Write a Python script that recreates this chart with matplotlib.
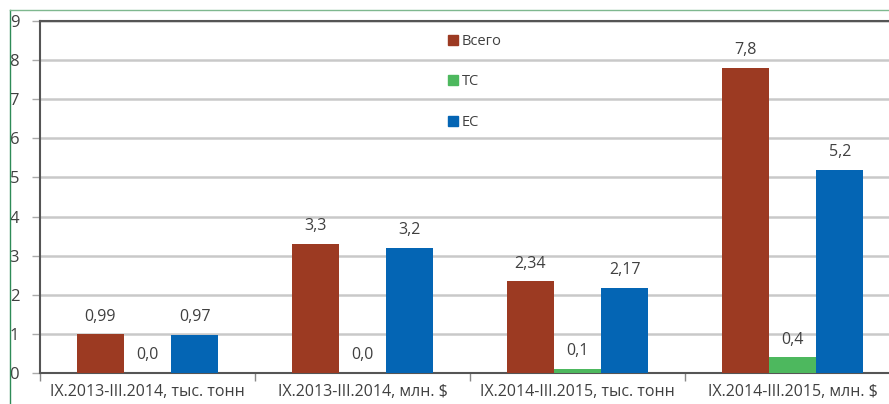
import matplotlib
matplotlib.use("Agg")
import matplotlib.pyplot as plt
from matplotlib.lines import Line2D
import numpy as np

categories = ["IX.2013-III.2014, тыс. тонн", "IX.2013-III.2014, млн. $",
              "IX.2014-III.2015, тыс. тонн", "IX.2014-III.2015, млн. $"]
series_names = ["Всего", "ТС", "ЕС"]
vsego = [0.99, 3.3, 2.34, 7.8]
ts = [0.0, 0.0, 0.1, 0.4]
es = [0.97, 3.2, 2.17, 5.2]
vsego_labels = ["0,99", "3,3", "2,34", "7,8"]
ts_labels = ["0,0", "0,0", "0,1", "0,4"]
es_labels = ["0,97", "3,2", "2,17", "5,2"]
yticks = [0, 1, 2, 3, 4, 5, 6, 7, 8, 9]

colors = ["#9C3A22", "#4DB85E", "#0465B4"]
txt = "#404040"

plt.rcParams['font.family'] = ['Open Sans', 'DejaVu Sans']

W, H = 889, 404
fig = plt.figure(figsize=(W / 100, H / 100), dpi=100)
ax = fig.add_axes([40 / W, (H - 373) / H, (900 - 40) / W, (373 - 21) / H])

x = np.arange(len(categories))
bw = 0.22
for i, (vals, labs) in enumerate(zip([vsego, ts, es], [vsego_labels, ts_labels, es_labels])):
    pos = x + (i - 1) * bw
    ax.bar(pos, vals, width=bw, color=colors[i], label=series_names[i], zorder=3)
    for p, v, l in zip(pos, vals, labs):
        ax.annotate(l, (p, v), xytext=(0, 7), textcoords="offset points",
                    ha="center", va="bottom", fontsize=11.5, color=txt)

ax.set_xlim(-0.5, len(categories) - 0.5)
ax.set_ylim(0, 9)
ax.set_yticks(yticks)
ax.set_yticklabels([str(t) for t in yticks])
ax.yaxis.grid(True, color="#c9c9c9", linewidth=1.8, zorder=0)
ax.set_axisbelow(True)

ax.set_xticks(x)
ax.set_xticklabels(categories)
ax.set_xticks(np.arange(len(categories) + 1) - 0.5, minor=True)
ax.tick_params(axis="x", which="major", length=0, pad=8, labelsize=11.5, colors=txt)
ax.tick_params(axis="x", which="minor", length=6, width=1, color="#888888")
ax.tick_params(axis="y", length=6, width=1, color="#aaaaaa", pad=9, labelsize=12, labelcolor=txt)

for s in ["left", "top", "bottom"]:
    ax.spines[s].set_color("#555555")
    ax.spines[s].set_linewidth(1.5)
ax.spines["right"].set_visible(False)

handles = [Line2D([0], [0], marker="s", linestyle="none", markersize=7,
                  markerfacecolor=c, markeredgecolor=c) for c in colors]
leg = ax.legend(handles, series_names, loc="upper left",
                bbox_to_anchor=((440 - 40) / (900 - 40), 1 - (28 - 21) / (373 - 21)),
                frameon=False, fontsize=10.5, labelspacing=1.75, handletextpad=0.1,
                handlelength=1.0, borderaxespad=0)
for t in leg.get_texts():
    t.set_color(txt)

# green border of the chart frame
fig.add_artist(Line2D([10 / W, 10 / W], [0, 1 - 10 / H], transform=fig.transFigure,
                      color="#2E8B57", linewidth=1))
fig.add_artist(Line2D([10 / W, 1], [1 - 10 / H, 1 - 10 / H], transform=fig.transFigure,
                      color="#7FB88F", linewidth=1))

fig.savefig("out.png", dpi=100)
